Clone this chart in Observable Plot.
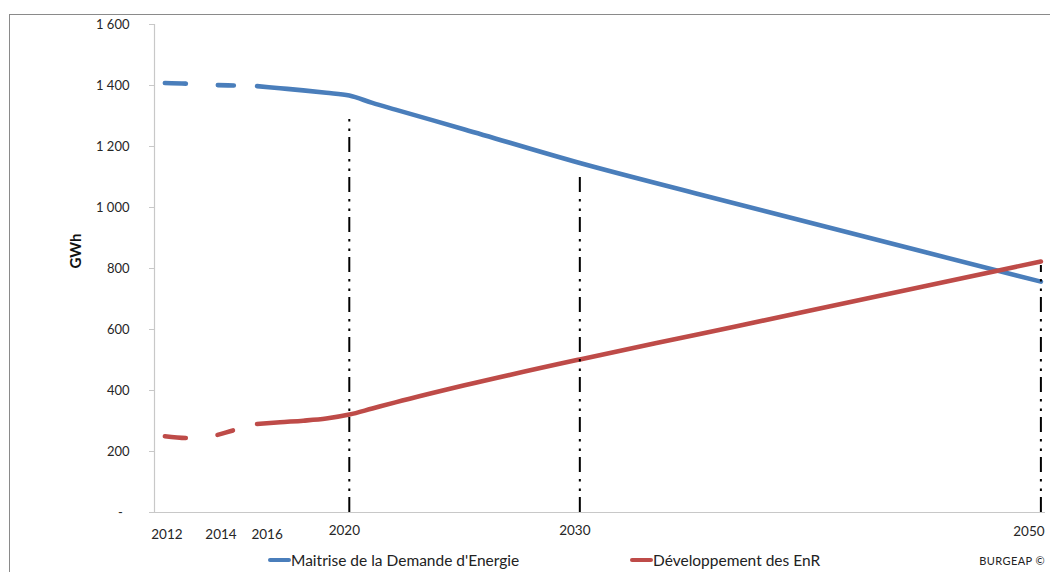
<!DOCTYPE html>
<html>
<head>
<meta charset="utf-8">
<script src="https://cdn.jsdelivr.net/npm/d3@7"></script>
<script src="https://cdn.jsdelivr.net/npm/@observablehq/plot@0.6"></script>
<style>
  body { margin: 0; background: #fff; overflow: hidden; font-family: Lato, "Open Sans", sans-serif; }
  #wrap { position: relative; width: 1050px; height: 572px; overflow: hidden; }
  #frame { position: absolute; left: 9px; top: 14px; width: 1200px; height: 700px; border: 1px solid #8a8a8a; }
  #chart { position: absolute; left: 0; top: 0; }
  .leg { position: absolute; top: 551px; font-size: 15.5px; color: #222; display: flex; align-items: center; white-space: nowrap; }
  .sw { display: inline-block; width: 23px; height: 4px; border-radius: 2px; }
  #credit { position: absolute; top: 554px; right: 5px; font-size: 11px; color: #222; letter-spacing: 0.4px; }
</style>
</head>
<body>
<div id="wrap">
  <div id="frame"></div>
  <div id="chart"></div>
</div>
<script>
// ---- Data ----
const seriesNames = ["Maitrise de la Demande d'Energie", "Développement des EnR"];
const seriesColors = ["#4a7ebb", "#be4b48"];
const years = [2012, 2013, 2014, 2015, 2016, 2017, 2018, 2019, 2020, 2021, 2022, 2025, 2030, 2035, 2040, 2045, 2050];
const mdeValues = [1408, 1406, 1402, 1400, 1398, 1391, 1384, 1376, 1367, 1343, 1321, 1256, 1146, 1047, 950, 853, 757];
const enrValues = [250, 244, 250, 270, 290, 296, 301, 308, 321, 341, 361, 417, 502, 582, 662, 743, 823];
const historicEnd = 2016;
const xTicks = [2012, 2014, 2016, 2020, 2030, 2050];
const yTicks = [0, 200, 400, 600, 800, 1000, 1200, 1400, 1600];
const refYears = [2020, 2030, 2050];
const refTops = [1290, 1110, 810];
const yLabel = "GWh";
const credit = "BURGEAP ©";

// ---- Build table ----
const seriesValues = [mdeValues, enrValues];
const rows = [];
seriesNames.forEach((s, i) => years.forEach((yr, j) => rows.push({ series: s, year: yr, value: seriesValues[i][j] })));
const dashedRows = rows.filter(d => d.year <= historicEnd);
const solidRows = rows.filter(d => d.year >= historicEnd);
const refs = refYears.map((yr, i) => ({ year: yr, top: refTops[i] }));

const xDomain = [2011.55, 2050.2];
const fmt = d => d === 0 ? "-\u00a0\u00a0" : d3.format(",")(d).replace(",", "\u00a0");

const axisText = { tickSize: 0, fill: "#262626", fontSize: 13.5, label: null, tickFormat: d => String(d) };

const chart = Plot.plot({
  width: 1050,
  height: 545,
  marginLeft: 154,
  marginRight: 5,
  marginTop: 24,
  marginBottom: 33,
  x: { domain: xDomain, axis: null, label: null },
  y: { domain: [0, 1600], axis: null, label: null },
  color: { domain: seriesNames, range: seriesColors },
  style: { fontFamily: "Lato, 'Open Sans', sans-serif", fontSize: "13px", background: "transparent", overflow: "visible" },
  marks: [
    Plot.ruleY([0], { stroke: "#c8c8c8", strokeWidth: 1.2 }),
    Plot.ruleX([xDomain[0]], { y1: 0, y2: 1600, stroke: "#c8c8c8", strokeWidth: 1.2 }),
    Plot.axisY({ ticks: yTicks, tickSize: 5, tickPadding: 20, tickFormat: fmt, stroke: "#c8c8c8", fill: "#262626", fontSize: 13, label: null }),
    Plot.axisX(xTicks.filter(t => t === 2012), { ...axisText, tickPadding: 17, dx: 2 }),
    Plot.axisX(xTicks.filter(t => t === 2014 || t === 2016), { ...axisText, tickPadding: 17, dx: 10 }),
    Plot.axisX(xTicks.filter(t => t === 2020 || t === 2030), { ...axisText, tickPadding: 13, dx: -5 }),
    Plot.axisX(xTicks.filter(t => t === 2050), { ...axisText, tickPadding: 14, dx: -12 }),
    Plot.text([yLabel], { frameAnchor: "left", dx: -78, rotate: -90, fontWeight: "bold", fontSize: 15, fill: "#111" }),
    Plot.line(dashedRows, { x: "year", y: "value", z: "series", stroke: "series", strokeWidth: 4.6, strokeDasharray: "21,32,16,40", strokeLinecap: "round", curve: "monotone-x" }),
    Plot.line(solidRows, { x: "year", y: "value", z: "series", stroke: "series", strokeWidth: 4.6, strokeLinecap: "round", strokeLinejoin: "round", curve: "monotone-x" }),
    Plot.ruleX(refs, { x: "year", y1: 0, y2: "top", stroke: "#000", strokeWidth: 2, strokeDasharray: "15,6,2.5,7,2.5,7" })
  ]
});
document.getElementById("chart").appendChild(chart);

// ---- Legend ----
const wrap = document.getElementById("wrap");
const legLefts = [268, 630];
seriesNames.forEach((s, i) => {
  const el = document.createElement("div");
  el.className = "leg";
  el.style.left = legLefts[i] + "px";
  const sw = document.createElement("span");
  sw.className = "sw";
  sw.style.background = seriesColors[i];
  const tx = document.createElement("span");
  tx.textContent = s;
  el.appendChild(sw); el.appendChild(tx);
  wrap.appendChild(el);
});
const cr = document.createElement("div");
cr.id = "credit";
cr.textContent = credit;
wrap.appendChild(cr);
</script>
</body>
</html>
